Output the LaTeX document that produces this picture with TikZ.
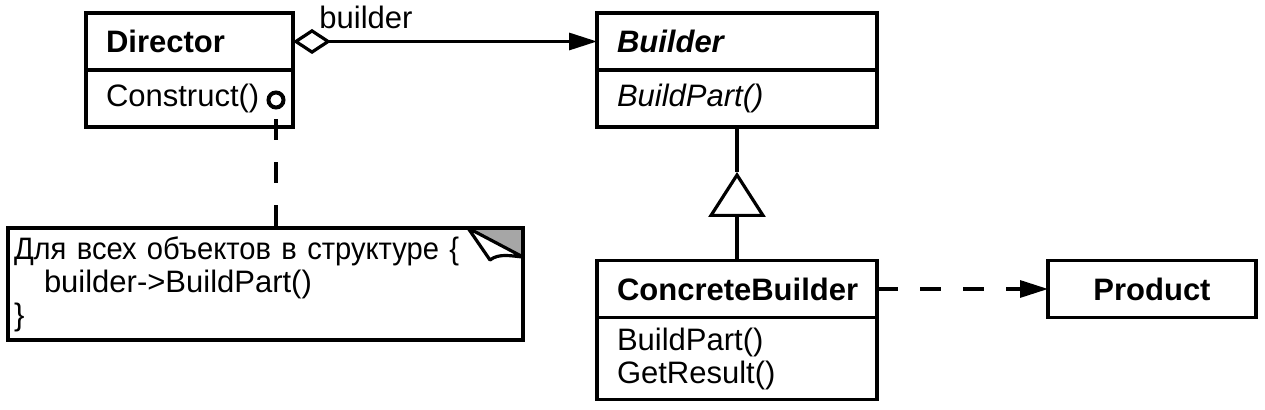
\documentclass[tikz,border=0pt]{standalone}
\usepackage{fontspec}
\setmainfont{Liberation Sans}
\usetikzlibrary{arrows.meta}
\usetikzlibrary{calc}
\usetikzlibrary{positioning}

\newcommand{\umlfont}{\fontsize{15.5pt}{16.5pt}\selectfont}

\begin{document}
\begin{tikzpicture}[x=0.5pt, y=-0.5pt, line width=1.6pt,
		box/.style={draw, outer sep=0pt, inner xsep=10pt, inner ysep=0pt, text width=#1, align=left},
		head/.style={minimum height=28.5pt, font=\umlfont\bfseries},
		body/.style={minimum height=28.5pt, font=\umlfont},
		dashes/.style={dash pattern=on 10.5pt off 11pt}]
		\useasboundingbox (0,0) rectangle (1265,410);

		\node[box=83.5pt, head] (director) at (189.5,41.5) {Director};
		\node[box=83.5pt, body, below=0pt of director] (directorops) {Construct()};
		\node[circle, draw, line width=2pt, inner sep=0pt, minimum size=7.5pt] (hook) at (276,100) {};

		\node[box=120pt, head, font=\umlfont\bfseries\itshape] (builder) at (737,41.5) {Builder};
		\node[box=120pt, body, font=\umlfont\itshape, below=0pt of builder] (builderops) {BuildPart()};

		\node[box=120pt, head] (concrete) at (737,289) {ConcreteBuilder};
		\node[box=120pt, body, minimum height=41pt, below=0pt of concrete] (concreteops) {BuildPart()\\GetResult()};

		\node[box=84pt, head, align=center] (product) at (1152,289) {Product};

		\node[box=251.5pt, body, inner xsep=3pt, minimum height=56pt, draw=none] (note) at (265.5,284) {{\addfontfeatures{FakeStretch=0.94}Для всех объектов в структуре \{}\\\hspace*{15pt}builder->BuildPart()\\\}};
		% note with folded corner
		\fill[gray!70] ($(note.north east)+(-55,0)$) -- (note.north east) -- ($(note.north east)+(0,29)$) -- cycle;
		\draw (note.north west) rectangle (note.south east);
		\draw[fill=white, line join=round] ($(note.north east)+(-55,0)$) -- ($(note.north east)+(-33,32)$) .. controls ($(note.north east)+(-24,25)$) and ($(note.north east)+(-12,28)$) .. ($(note.north east)+(0,29)$) -- cycle;

		\draw[dashes, dash phase=16.5pt] (hook.south) -- (hook.south |- note.north);
		\draw[{Diamond[open, length=19pt, width=12.5pt]}-{Triangle[length=14pt, width=8.5pt]}] (director.east) -- node[above=2pt, pos=0.24, font=\umlfont] (role) {builder} (builder.west);

		\coordinate (apex) at ($(builderops.south)+(0,45)$);
		\draw (builderops.south) -- (apex);
		\draw[-{Triangle[open, length=22.5pt, width=28.5pt]}] (concrete.north) -- (apex);

		\draw[dashes, -{Triangle[length=14pt, width=8.5pt]}] (concrete.east) -- (product.west);
	\end{tikzpicture}
\end{document}
